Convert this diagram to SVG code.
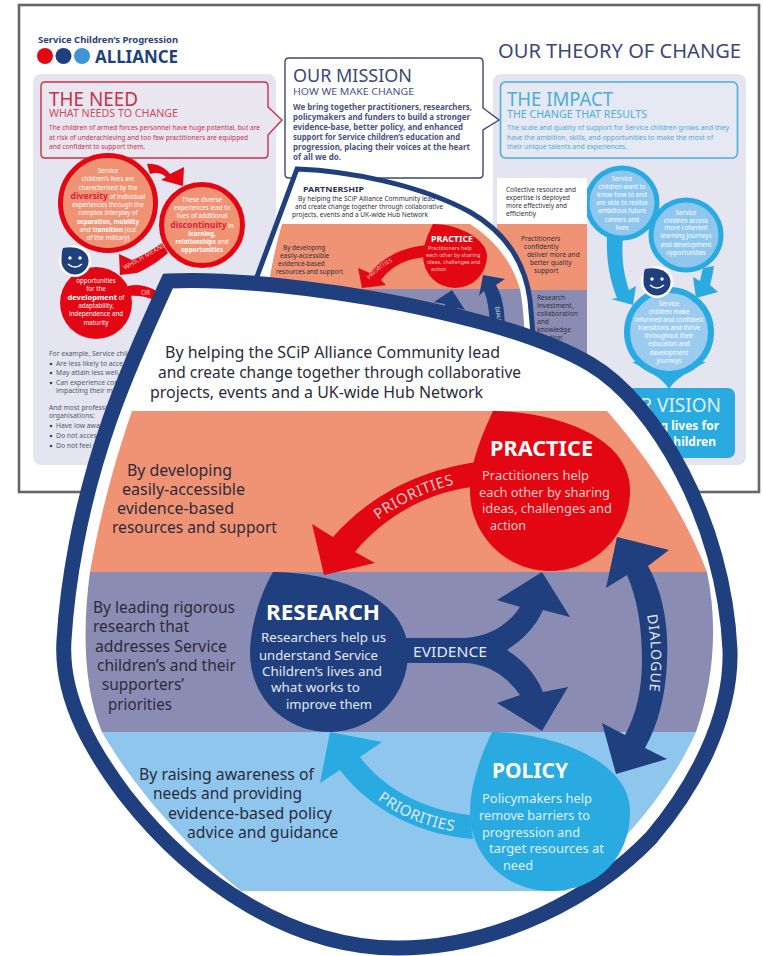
<svg xmlns="http://www.w3.org/2000/svg" width="763" height="956" viewBox="0 0 763 956">
<style>
text{font-family:"Noto Sans","Open Sans",sans-serif}
.b{font-weight:700}
.panel{fill:#e4e5f1}
.need{fill:#c8304a}
.mis{fill:#4a5185}
.imp{fill:#4aaed8}
.h1{font-size:19px}
.h2{font-size:10.5px}
.p{font-size:7.4px}
.wc{font-size:6.2px;fill:#fff;text-anchor:middle}
.wb{font-weight:700}
.rd{font-weight:700;fill:#d8233f;font-size:8.6px}
.ex{font-size:6.8px;fill:#55586e}
.col{font-size:6.6px;fill:#30303c}
.m{font-size:6.4px;fill:#30303c}
.big{font-size:16.4px;fill:#2b2b3a}
.bd{font-size:15.4px;fill:#2b2b3a}
.tt{font-size:20.5px;font-weight:700;fill:#fff}
.lb{font-size:13.4px}
.navy{fill:#1f3f7f}
.red{fill:#e30613}
.sky{fill:#29abe2}
.or{fill:#f09374}
.gr{fill:#8b8cb3}
.lt{fill:#8fc6ee}
.arl{font-size:14px;fill:#e4e8f4}
</style>
<defs>
<path id="pRed" d="M344,552 C378,512 426,487 474,481"/>
<path id="pBlue" d="M345,767 C373,805 417,829 470,833"/>
<path id="pDia" d="M646,610 C652,640 653,670 648,700"/>
<path id="pMidRed" d="M367,283 C382,263 402,255 426,253"/>
</defs>
<rect width="763" height="956" fill="#fff"/>
<rect x="19" y="5" width="740" height="487" fill="#fff" stroke="#666" stroke-width="2.6"/>

<g id="logo">
<text x="38" y="43" class="b" font-size="9.6" fill="#2a3f7a" textLength="140" lengthAdjust="spacingAndGlyphs">Service Children’s Progression</text>
<circle cx="45" cy="56" r="8" class="red"/>
<circle cx="63.500" cy="56" r="8" class="navy"/>
<circle cx="82" cy="56" r="8" fill="#3f94d6"/>
<text x="95" y="63" class="b navy" font-size="18" textLength="83" lengthAdjust="spacingAndGlyphs">ALLIANCE</text>
</g>
<text id="title" x="498" y="58" font-size="20" fill="#3c4778" textLength="243" lengthAdjust="spacingAndGlyphs">OUR THEORY OF CHANGE</text>

<rect id="panel-need" class="panel" x="33" y="74" width="243" height="391" rx="8"/>
<rect id="panel-impact" class="panel" x="493" y="74" width="253" height="391" rx="8"/>

<g id="need-box">
<path d="M45,82 H264 Q268,82 268,86 V107 L282,120 L268,135 V154 Q268,158 264,158 H45 Q41,158 41,154 V86 Q41,82 45,82Z" fill="#e9e6ef" stroke="#c8304a" stroke-width="1.4"/>
<text x="49" y="106" class="need h1" textLength="89" lengthAdjust="spacingAndGlyphs">THE NEED</text>
<text x="49" y="117" class="need h2" textLength="129" lengthAdjust="spacingAndGlyphs" opacity=".85">WHAT NEEDS TO CHANGE</text>
<text x="49" y="130" class="need p" textLength="211" lengthAdjust="spacingAndGlyphs">The children of armed forces personnel have huge potential, but are</text>
<text x="49" y="140" class="need p" textLength="199" lengthAdjust="spacingAndGlyphs">at risk of underachieving and too few practitioners are equipped</text>
<text x="49" y="149" class="need p" textLength="96" lengthAdjust="spacingAndGlyphs">and confident to support them.</text>
</g>

<g id="mission-box">
<path d="M289,58 H479 Q483,58 483,62 V108 L499,120 L483,130 V174 Q483,178 479,178 H289 Q285,178 285,174 V62 Q285,58 289,58Z" fill="#fff" stroke="#3c4778" stroke-width="1.4"/>
<text x="293" y="82" font-size="18" fill="#3c4778" textLength="119" lengthAdjust="spacingAndGlyphs">OUR MISSION</text>
<text x="293" y="95" font-size="9.6" class="mis" textLength="121" lengthAdjust="spacingAndGlyphs">HOW WE MAKE CHANGE</text>
<g class="mis b" font-size="8.3">
<text x="293" y="110" textLength="179" lengthAdjust="spacingAndGlyphs">We bring together practitioners, researchers,</text>
<text x="293" y="120" textLength="177" lengthAdjust="spacingAndGlyphs">policymakers and funders to build a stronger</text>
<text x="293" y="129.500" textLength="170" lengthAdjust="spacingAndGlyphs">evidence-base, better policy, and enhanced</text>
<text x="293" y="139.500" textLength="167" lengthAdjust="spacingAndGlyphs">support for Service children’s education and</text>
<text x="293" y="150" textLength="177" lengthAdjust="spacingAndGlyphs">progression, placing their voices at the heart</text>
<text x="293" y="160" textLength="48" lengthAdjust="spacingAndGlyphs">of all we do.</text>
</g>
</g>

<g id="impact-box">
<rect x="500.500" y="82" width="237" height="76" rx="5" fill="#e6e8f3" stroke="#4aaed8" stroke-width="1.6"/>
<text x="507" y="106" class="imp h1" textLength="106" lengthAdjust="spacingAndGlyphs">THE IMPACT</text>
<text x="507" y="118" class="imp h2" textLength="140" lengthAdjust="spacingAndGlyphs">THE CHANGE THAT RESULTS</text>
<text x="507" y="130" class="imp p" textLength="222" lengthAdjust="spacingAndGlyphs">The scale and quality of support for Service children grows and they</text>
<text x="507" y="139.500" class="imp p" textLength="206" lengthAdjust="spacingAndGlyphs">have the ambition, skills, and opportunities to make the most of</text>
<text x="507" y="149" class="imp p" textLength="120" lengthAdjust="spacingAndGlyphs">their unique talents and experiences.</text>
</g>

<g id="need-circle-1">
<circle cx="108" cy="203" r="47.500" class="or" stroke="#e30613" stroke-width="5"/>
<text x="108" y="173" class="wc">Service</text>
<text x="108" y="181" class="wc">children’s lives are</text>
<text x="108" y="190" class="wc">characterised by the</text>
<text x="108" y="199" class="wc"><tspan class="rd">diversity</tspan> of individual</text>
<text x="108" y="207" class="wc">experiences through the</text>
<text x="108" y="215" class="wc">complex interplay of</text>
<text x="108" y="224" class="wc wb">separation, mobility</text>
<text x="108" y="232" class="wc">and <tspan class="wb">transition</tspan> (out</text>
<text x="108" y="240" class="wc">of the military)</text>
</g>
<g id="need-circle-2">
<circle cx="202" cy="225" r="40.500" class="or" stroke="#e30613" stroke-width="5"/>
<text x="202" y="202" class="wc">These diverse</text>
<text x="202" y="210" class="wc">experiences lead to</text>
<text x="202" y="218" class="wc">lives of additional</text>
<text x="202" y="228" class="wc"><tspan class="rd">discontinuity</tspan> in</text>
<text x="202" y="236" class="wc wb">learning,</text>
<text x="202" y="244" class="wc"><tspan class="wb">relationships</tspan> and</text>
<text x="202" y="252" class="wc wb">opportunities</text>
</g>
<g id="need-circle-3">
<circle cx="96" cy="303" r="36" class="red"/>
<text x="96" y="283" class="wc">opportunities</text>
<text x="96" y="291" class="wc">for the</text>
<text x="96" y="300" class="wc"><tspan class="wb" font-size="7.500">development</tspan> of</text>
<text x="96" y="308" class="wc">adaptability,</text>
<text x="96" y="316" class="wc">independence and</text>
<text x="96" y="325" class="wc">maturity</text>
</g>
<g id="face-left">
<circle cx="75" cy="261" r="16" fill="#fff"/>
<path class="navy" d="M63,248 C75,245 88.500,250 88.500,261 A13.500,13.500 0 0 1 61.500,261 C61.500,256 61.500,252 63,248Z"/>
<circle cx="70" cy="258" r="1.700" fill="#fff"/><circle cx="80" cy="258" r="1.700" fill="#fff"/>
<path d="M68,264 Q75,270 82,264" fill="none" stroke="#fff" stroke-width="1.500"/>
</g>

<g id="connectors-background">
<path class="red" d="M147,164 C155,163 165,167 170,174 L184,167 L183,186 L161,180 L166,177 C162,173 156,172 150,174Z"/>
<path class="red" d="M119,254 L132,260 C142,256 152,250 162,243 L168,253 C158,262 148,268 137,273 L120,275Z"/>
<text x="125" y="270" fill="#f5c6bd" font-size="6.600" transform="rotate(-30 125 270)" textLength="47" lengthAdjust="spacingAndGlyphs">WHICH MEANS</text>
<path class="red" d="M128,286 C136,284 145,285 155,290 V300 C145,296 136,295 128,296Z"/>
<text x="141" y="295" fill="#f5c6bd" font-size="6.500">OR</text>
<path class="sky" d="M607,235 C606,262 610,280 617,298 L611,299 L633,305 L636,286 L629,290 C624,275 621,258 623,237Z"/>
<path class="sky" d="M703,268 L714,266 C713,272 712,278 710,285 L718,292 L696,298 L693,277 L700,281 C701,276 702,272 703,268Z"/>
</g>

<g id="need-examples" class="ex">
<text x="49" y="356">For example, Service chil</text>
<circle cx="51" cy="364" r="1.300" fill="#444"/><text x="56" y="366">Are less likely to acce</text>
<circle cx="51" cy="373" r="1.300" fill="#444"/><text x="56" y="375">May attain less well,</text>
<circle cx="51" cy="383" r="1.300" fill="#444"/><text x="56" y="385">Can experience con</text>
<text x="56" y="393">impacting their m</text>
<text x="49" y="410">And most professi</text>
<text x="49" y="418">organisations:</text>
<circle cx="51" cy="426" r="1.300" fill="#444"/><text x="56" y="428">Have low awa</text>
<circle cx="51" cy="436" r="1.300" fill="#444"/><text x="56" y="438">Do not acces</text>
<circle cx="51" cy="446" r="1.300" fill="#444"/><text x="56" y="448">Do not feel c</text>
</g>

<g id="impact-circle-a">
<circle cx="622" cy="203" r="35" class="lt" stroke="#29abe2" stroke-width="5"/>
<text x="622" y="181" class="wc">Service</text>
<text x="622" y="189" class="wc">children want to</text>
<text x="622" y="197" class="wc">know how to and</text>
<text x="622" y="205" class="wc">are able to realise</text>
<text x="622" y="213" class="wc">ambitious future</text>
<text x="622" y="222" class="wc">careers and</text>
<text x="622" y="230" class="wc">lives</text>
</g>
<g id="impact-circle-b">
<circle cx="686" cy="235" r="35" class="lt" stroke="#29abe2" stroke-width="5"/>
<text x="686" y="215" class="wc">Service</text>
<text x="686" y="223" class="wc">children access</text>
<text x="686" y="230" class="wc">more coherent</text>
<text x="686" y="238" class="wc">learning journeys</text>
<text x="686" y="247" class="wc">and development</text>
<text x="686" y="255" class="wc">opportunities</text>
</g>
<g id="vision">
<rect x="590" y="388" width="145" height="70" rx="7" class="sky"/>
<text x="721" y="412" text-anchor="end" font-size="19" fill="#dff1fb">UR VISION</text>
<text x="719" y="430" text-anchor="end" class="b" font-size="12" fill="#fff">g lives for</text>
<text x="716" y="446" text-anchor="end" class="b" font-size="12" fill="#fff">hildren</text>
</g>
<g id="impact-circle-c">
<path class="sky" d="M632,362 C650,372 662,378 669,389 C676,378 688,372 706,362Z"/>
<circle cx="669" cy="332" r="42" fill="#9ccbf0" stroke="#29abe2" stroke-width="6"/>
<text x="669" y="306" class="wc">Service</text>
<text x="669" y="314" class="wc">children make</text>
<text x="669" y="322" class="wc">informed and confident</text>
<text x="669" y="330" class="wc">transitions and thrive</text>
<text x="669" y="338" class="wc">throughout their</text>
<text x="669" y="346" class="wc">education and</text>
<text x="669" y="355" class="wc">development</text>
<text x="669" y="363" class="wc">journeys</text>
</g>
<g id="face-right">
<circle cx="657" cy="282" r="16" fill="#fff"/>
<path class="navy" d="M645,269 C657,266 670.500,271 670.500,282 A13.500,13.500 0 0 1 643.500,282 C643.500,277 643.500,273 645,269Z"/>
<circle cx="652" cy="279" r="1.700" fill="#fff"/><circle cx="662" cy="279" r="1.700" fill="#fff"/>
<path d="M650,285 Q657,291 664,285" fill="none" stroke="#fff" stroke-width="1.500"/>
</g>

<g id="outcome-column">
<rect x="497" y="178" width="90" height="46" fill="#fff"/>
<rect x="497" y="224" width="90" height="66" class="or"/>
<rect x="497" y="290" width="90" height="65" class="gr"/>
<rect x="497" y="355" width="90" height="30" fill="#8fc6ee"/>
<text x="506" y="192" class="col" textLength="70" lengthAdjust="spacingAndGlyphs">Collective resource and</text>
<text x="506" y="200" class="col" textLength="64" lengthAdjust="spacingAndGlyphs">expertise is deployed</text>
<text x="506" y="208" class="col" textLength="61" lengthAdjust="spacingAndGlyphs">more effectively and</text>
<text x="506" y="216" class="col">efficiently</text>
<text x="521" y="241" class="col">Practitioners</text>
<text x="524" y="249" class="col">confidently</text>
<text x="527" y="257" class="col">deliver more and</text>
<text x="530" y="265" class="col">better quality</text>
<text x="534" y="273" class="col">support</text>
<text x="537" y="300" class="col">Research</text>
<text x="537" y="308" class="col">investment,</text>
<text x="537" y="316" class="col">collaboration</text>
<text x="537" y="324" class="col">and</text>
<text x="537" y="332" class="col">knowledge</text>
<text x="537" y="340" class="col">creation</text>
</g>

<g id="partnership-panel">
<path d="M297,169 C350,171 420,185 470,212 C505,232 525,262 530,300 L534,345 L250,345 L252,290Z" fill="#fff" stroke="#1f3f7f" stroke-width="5"/>
<path class="or" d="M282,224 H470 C495,240 512,262 520,289 H268 C271,268 276,245 282,224Z"/>
<path class="gr" d="M268,289 H520 C523,305 524,320 525,345 H262Z"/>
<text x="303" y="192" class="b" font-size="7.500" fill="#2a3050" textLength="61" lengthAdjust="spacingAndGlyphs">PARTNERSHIP</text>
<text x="298" y="201" class="m" textLength="137" lengthAdjust="spacingAndGlyphs">By helping the SCiP Alliance Community lead</text>
<text x="295" y="209" class="m" textLength="148" lengthAdjust="spacingAndGlyphs">and create change together through collaborative</text>
<text x="292" y="217" class="m" textLength="136" lengthAdjust="spacingAndGlyphs">projects, events and a UK-wide Hub Network</text>
<text x="283" y="250" class="m">By developing</text>
<text x="280" y="258" class="m">easily-accessible</text>
<text x="278" y="266" class="m">evidence-based</text>
<text x="276" y="273.500" class="m" textLength="67" lengthAdjust="spacingAndGlyphs">resources and support</text>
<path class="red" d="M433,224 C460,224 487,240 487,256 A32,32 0 0 1 423,256 C423,245 428,234 433,224Z"/>
<path class="red" d="M362,288 L358,268 L370,273 C385,255 405,247 428,245 L427,257 C408,258 392,265 381,280 L386,285Z"/>
<text class="b" x="431" y="242" font-size="9" fill="#fff" textLength="42" lengthAdjust="spacingAndGlyphs">PRACTICE</text>
<g font-size="5.300" fill="#f7c9c0">
<text x="428" y="250">Practitioners help</text>
<text x="426" y="257">each other by sharing</text>
<text x="427" y="264">ideas, challenges and</text>
<text x="431" y="271">action</text>
</g>
<text font-size="5.600" fill="#f7c9c0"><textPath href="#pMidRed" startOffset="4">PRIORITIES</textPath></text>
<path class="navy" d="M452,290 L465,310 L457,308 L457,322 L445,322 L445,304 L434,302Z"/>
<path class="navy" d="M483,275 L505,279 L496,285 C503,298 505,310 505,335 L490,335 C490,315 488,300 484,291 L479,296Z"/>
<text x="495" y="307" font-size="5.600" fill="#dfe4f0" transform="rotate(80 495 307)">DIALC</text>
</g>

<path id="community-outline" d="M168,281 C230,278 320,288 403,304 C470,318 540,335 590,364 C655,402 724,520 730,650 C732,720 692,790 651,838 C595,896 500,948 397,948 C295,948 195,885 125,795 C95,755 60,700 64,640 C67,590 78,510 110,419 C128,368 150,320 168,281Z" fill="#fff" stroke="#1f3f7f" stroke-width="15"/>

<g id="bands">
<path class="or" d="M132,411 H607 C650,460 685,515 707,572 H90 C100,515 115,460 132,411Z"/>
<path class="gr" d="M90,572 H707 C718,625 714,680 696,732 H102 C84,690 82,630 90,572Z"/>
<path class="lt" d="M102,732 H696 C670,790 620,850 566,891 H241 C190,850 135,790 102,732Z"/>
</g>

<text id="community-intro" class="big">
<tspan x="165" y="358" textLength="335" lengthAdjust="spacingAndGlyphs">By helping the SCiP Alliance Community lead</tspan>
<tspan x="158" y="378" textLength="363" lengthAdjust="spacingAndGlyphs">and create change together through collaborative</tspan>
<tspan x="150" y="398" textLength="333" lengthAdjust="spacingAndGlyphs">projects, events and a UK-wide Hub Network</tspan>
</text>

<g id="practice-text" class="bd">
<text x="127" y="476" textLength="105" lengthAdjust="spacingAndGlyphs">By developing</text>
<text x="122" y="495" textLength="123" lengthAdjust="spacingAndGlyphs">easily-accessible</text>
<text x="117" y="514" textLength="117" lengthAdjust="spacingAndGlyphs">evidence-based</text>
<text x="112" y="533" textLength="165" lengthAdjust="spacingAndGlyphs">resources and support</text>
</g>
<g id="research-text" class="bd">
<text x="93" y="613" textLength="142" lengthAdjust="spacingAndGlyphs">By leading rigorous</text>
<text x="93" y="632" textLength="96" lengthAdjust="spacingAndGlyphs">research that</text>
<text x="95" y="652" textLength="132" lengthAdjust="spacingAndGlyphs">addresses Service</text>
<text x="97" y="671" textLength="139" lengthAdjust="spacingAndGlyphs">children’s and their</text>
<text x="102" y="690" textLength="82" lengthAdjust="spacingAndGlyphs">supporters’</text>
<text x="108" y="710" textLength="64" lengthAdjust="spacingAndGlyphs">priorities</text>
</g>
<g id="policy-text" class="bd">
<text x="139" y="780" textLength="175" lengthAdjust="spacingAndGlyphs">By raising awareness of</text>
<text x="153" y="799" textLength="149" lengthAdjust="spacingAndGlyphs">needs and providing</text>
<text x="168" y="819" textLength="164" lengthAdjust="spacingAndGlyphs">evidence-based policy</text>
<text x="187" y="838" textLength="151" lengthAdjust="spacingAndGlyphs">advice and guidance</text>
</g>

<g id="research">
<path class="navy" d="M273,572 C320,572 408,590 408,653 C408,697 372,732 329,732 C285,732 250,697 250,653 C250,625 262,590 273,572Z"/>
<text x="266" y="620" class="tt" textLength="114" lengthAdjust="spacingAndGlyphs">RESEARCH</text>
<g class="lb" fill="#e4e8f4">
<text x="261" y="642" textLength="125" lengthAdjust="spacingAndGlyphs">Researchers help us</text>
<text x="259" y="660" textLength="119" lengthAdjust="spacingAndGlyphs">understand Service</text>
<text x="262" y="676" textLength="120" lengthAdjust="spacingAndGlyphs">Children’s lives and</text>
<text x="271" y="692" textLength="89" lengthAdjust="spacingAndGlyphs">what works to</text>
<text x="286" y="709" textLength="86" lengthAdjust="spacingAndGlyphs">improve them</text>
</g>
</g>
<g id="practice">
<path class="red" d="M493,411 C540,411 630,430 630,491 C630,535 594,571 550,571 C506,571 470,535 470,491 C470,462 482,435 493,411Z"/>
<text x="490" y="456" class="tt" textLength="103" lengthAdjust="spacingAndGlyphs">PRACTICE</text>
<g class="lb" fill="#f7c9c0">
<text x="482" y="480" textLength="107" lengthAdjust="spacingAndGlyphs">Practitioners help</text>
<text x="479" y="497" textLength="131" lengthAdjust="spacingAndGlyphs">each other by sharing</text>
<text x="482" y="513" textLength="130" lengthAdjust="spacingAndGlyphs">ideas, challenges and</text>
<text x="490" y="530" textLength="36" lengthAdjust="spacingAndGlyphs">action</text>
</g>
</g>
<g id="policy">
<path class="sky" d="M492,732 C540,732 630,755 630,812 C630,855 600,891 550,891 C506,891 470,856 470,812 C470,785 481,755 492,732Z"/>
<text x="492" y="778" class="tt" textLength="76" lengthAdjust="spacingAndGlyphs">POLICY</text>
<g class="lb" fill="#dff0fb">
<text x="482" y="803" textLength="110" lengthAdjust="spacingAndGlyphs">Policymakers help</text>
<text x="479" y="820" textLength="111" lengthAdjust="spacingAndGlyphs">remove barriers to</text>
<text x="482" y="837" textLength="98" lengthAdjust="spacingAndGlyphs">progression and</text>
<text x="489" y="853" textLength="115" lengthAdjust="spacingAndGlyphs">target resources at</text>
<text x="503" y="870" textLength="30" lengthAdjust="spacingAndGlyphs">need</text>
</g>
</g>

<g id="connectors">
<path class="red" d="M324,575 L312,524 L333,537 C370,495 420,470 477,462 L472,487 C430,492 385,515 355,552 L375,563Z"/>
<text font-size="15" letter-spacing=".5" fill="#f7c9c0"><textPath href="#pRed" startOffset="47">PRIORITIES</textPath></text>
<path class="navy" d="M405,638 L465,638 C490,636 508,625 520,607 L497,600 L542,572 L570,617 L543,610 C535,628 522,640 507,650 C522,660 535,672 543,692 L568,687 L542,731 L497,703 L520,695 C508,678 490,664 465,663 L405,663Z"/>
<text x="413" y="657" class="arl" textLength="74" lengthAdjust="spacingAndGlyphs">EVIDENCE</text>
<path class="navy" d="M617,537 L669,550 L648,566 C662,590 669,625 667,660 C666,695 658,725 645,748 L667,759 L616,774 L602,723 L625,735 C636,715 642,690 642,660 C642,630 638,600 627,575 L606,588Z"/>
<text class="arl" letter-spacing=".9"><textPath href="#pDia" startOffset="5">DIALOGUE</textPath></text>
<path class="sky" d="M330,732 L382,742 L360,757 C385,790 425,810 470,815 L473,839 C420,835 370,810 340,770 L320,783Z"/>
<text font-size="15" letter-spacing=".4" fill="#e4e8f4"><textPath href="#pBlue" startOffset="46">PRIORITIES</textPath></text>
</g>
</svg>
